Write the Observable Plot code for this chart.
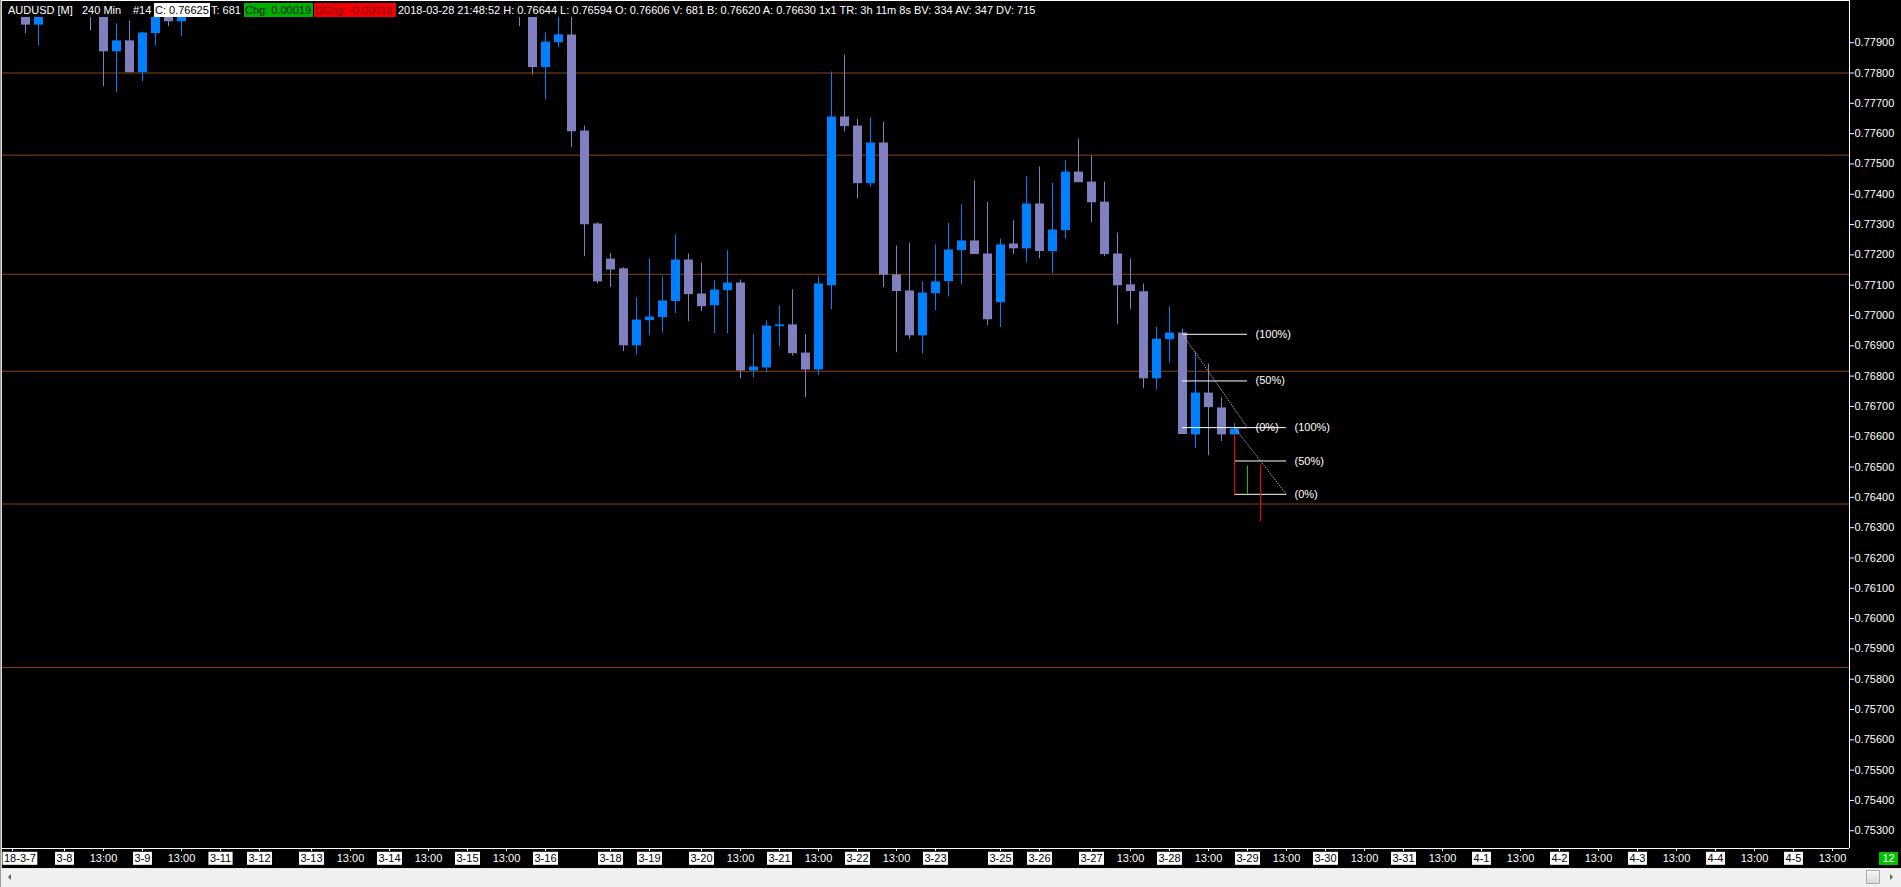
<!DOCTYPE html>
<html>
<head>
<meta charset="utf-8">
<script src="https://cdn.jsdelivr.net/npm/d3@7"></script>
<script src="https://cdn.jsdelivr.net/npm/@observablehq/plot@0.6"></script>
<style>
html, body { margin: 0; padding: 0; background: #000; overflow: hidden; }
#wrap { position: relative; width: 1901px; height: 887px; background: #000; font-family: "Liberation Sans", Arial, sans-serif; font-size: 11px; }
#chart svg { display: block; }
#hdr { position: absolute; left: 0; top: 0; width: 1901px; height: 17px; pointer-events: none; }
#hdr span { position: absolute; top: 3px; height: 14px; line-height: 14px; color: #fff; white-space: nowrap; font-size: 11px; }
#hdr span.box { box-sizing: border-box; padding-left: 1px; }
#topline { position: absolute; left: 0; top: 0; width: 1850px; height: 1px; background: #fff; }
#rightline { position: absolute; left: 1849px; top: 0; width: 1px; height: 17px; background: #fff; }
#lb1 { position: absolute; left: 0; top: 0; width: 1px; height: 887px; background: #9a9a9a; }
#lb2 { position: absolute; left: 1px; top: 0; width: 1px; height: 868px; background: #d8d8d8; }
#sb { position: absolute; left: 0; top: 868px; width: 1901px; height: 19px; background: #f0f0f0; border-top: 1px solid #e4e4e4; box-sizing: border-box; }
#sb .la { position: absolute; left: 8px; top: 5px; width: 0; height: 0; border-top: 3px solid transparent; border-bottom: 3px solid transparent; border-right: 3px solid #606060; }
#sb .thumb { position: absolute; left: 1866px; top: 1px; width: 14px; height: 14px; box-sizing: border-box; border: 1px solid #acacac; background: linear-gradient(#f6f6f6, #dadada); }
#sb .ra { position: absolute; left: 1890px; top: 5px; width: 0; height: 0; border-top: 3px solid transparent; border-bottom: 3px solid transparent; border-left: 3px solid #606060; }
#barsleft { position: absolute; left: 1879px; top: 852px; width: 19px; height: 13px; line-height: 13px; background: #00c000; color: #fff; text-align: center; font-size: 11px; }
</style>
</head>
<body>
<div id="wrap">
  <div id="chart"></div>
  <div id="hdr">
    <div id="topline"></div><div id="rightline"></div>
    <span style="left:8px">AUDUSD [M]</span>
    <span style="left:82px">240 Min</span>
    <span style="left:133px">#14</span>
    <span class="box" style="left:154px;width:56px;background:#fff;color:#000">C: 0.76625</span>
    <span style="left:211px">T: 681</span>
    <span class="box" style="left:244px;width:69px;background:#00b000;color:#002200">Chg: 0.00019</span>
    <span class="box" style="left:314px;width:82px;background:#f00000;color:#8b0000">DChg: -0.00019</span>
    <span style="left:398px">2018-03-28 21:48:52 H: 0.76644 L: 0.76594 O: 0.76606 V: 681 B: 0.76620 A: 0.76630 1x1 TR: 3h 11m 8s BV: 334 AV: 347 DV: 715</span>
  </div>
  <div id="barsleft">12</div>
  <div id="sb"><div class="la"></div><div class="thumb"></div><div class="ra"></div></div>
  <div id="lb1"></div><div id="lb2"></div>
</div>
<script>
// ---------- DATA ----------
// bar index (4-hour bars counted from the first bar on screen)
const barIndex = [0, 1, 5, 6, 7, 8, 9, 10, 11, 12,
  38, 39, 40, 41, 42, 43, 44, 45, 46, 47, 48, 49, 50, 51, 52, 53, 54, 55, 56, 57, 58, 59,
  60, 61, 62, 63, 64, 65, 66, 67, 68, 69, 70, 71, 72, 73, 74, 75, 76, 77, 78, 79,
  80, 81, 82, 83, 84, 85, 86, 87, 88, 89, 90, 91, 92, 93];
const openP = [0.78010, 0.77958, 0.78050, 0.78030, 0.77870, 0.77906, 0.77801, 0.77930, 0.78010, 0.77969,
  0.78030, 0.78030, 0.77818, 0.77900, 0.77925, 0.77609, 0.77302, 0.77186, 0.77154, 0.76900, 0.76983, 0.76993, 0.77046, 0.77183, 0.77071, 0.77032, 0.77082, 0.77107, 0.76817, 0.76827, 0.76963, 0.76969,
  0.76876, 0.76820, 0.77098, 0.77655, 0.77625, 0.77435, 0.77569, 0.77134, 0.77081, 0.76933, 0.77072, 0.77112, 0.77214, 0.77246, 0.77203, 0.77042, 0.77236, 0.77220, 0.77368, 0.77211,
  0.77280, 0.77473, 0.77440, 0.77374, 0.77203, 0.77101, 0.77078, 0.76791, 0.76920, 0.76942, 0.76606, 0.76744, 0.76695, 0.76606];
const highP = [0.78020, 0.78020, 0.78080, 0.78060, 0.77962, 0.77972, 0.77935, 0.78030, 0.78030, 0.78030,
  0.78060, 0.78060, 0.77932, 0.78000, 0.78000, 0.77625, 0.77306, 0.77205, 0.77158, 0.77059, 0.77186, 0.77127, 0.77266, 0.77203, 0.77173, 0.77114, 0.77214, 0.77117, 0.76937, 0.76982, 0.77032, 0.77085,
  0.76937, 0.77127, 0.77803, 0.77859, 0.77648, 0.77652, 0.77638, 0.77229, 0.77239, 0.77111, 0.77233, 0.77305, 0.77365, 0.77444, 0.77374, 0.77252, 0.77312, 0.77457, 0.77490, 0.77437,
  0.77510, 0.77582, 0.77526, 0.77440, 0.77272, 0.77186, 0.77104, 0.76962, 0.77028, 0.76955, 0.76879, 0.76840, 0.76728, 0.76644];
const lowP = [0.77929, 0.77890, 0.77939, 0.77755, 0.77735, 0.77801, 0.77771, 0.77890, 0.77953, 0.77920,
  0.77953, 0.77793, 0.77711, 0.77884, 0.77554, 0.77194, 0.77104, 0.77092, 0.76881, 0.76871, 0.76933, 0.76943, 0.77006, 0.76980, 0.77013, 0.76940, 0.76940, 0.76791, 0.76795, 0.76811, 0.76897, 0.76867,
  0.76729, 0.76801, 0.77019, 0.77606, 0.77385, 0.77422, 0.77092, 0.76877, 0.76921, 0.76874, 0.77016, 0.77061, 0.77101, 0.77201, 0.76966, 0.76960, 0.77201, 0.77174, 0.77187, 0.77138,
  0.77253, 0.77438, 0.77306, 0.77194, 0.76970, 0.77019, 0.76759, 0.76755, 0.76841, 0.76607, 0.76561, 0.76537, 0.76584, 0.76594];
const closeP = [0.77958, 0.78010, 0.78000, 0.77870, 0.77906, 0.77801, 0.77932, 0.78010, 0.77969, 0.78010,
  0.78000, 0.77818, 0.77902, 0.77926, 0.77606, 0.77299, 0.77111, 0.77150, 0.76900, 0.76985, 0.76995, 0.77048, 0.77183, 0.77069, 0.77029, 0.77084, 0.77107, 0.76817, 0.76830, 0.76965, 0.76969, 0.76874,
  0.76820, 0.77104, 0.77655, 0.77623, 0.77435, 0.77569, 0.77133, 0.77079, 0.76933, 0.77074, 0.77111, 0.77216, 0.77246, 0.77201, 0.76986, 0.77233, 0.77220, 0.77368, 0.77211, 0.77282,
  0.77473, 0.77438, 0.77372, 0.77201, 0.77098, 0.77079, 0.76791, 0.76922, 0.76942, 0.76607, 0.76744, 0.76696, 0.76606, 0.76625];

// horizontal support / resistance levels
const levels = [0.77800, 0.77529, 0.77136, 0.76816, 0.76378, 0.75839];

// retracement drawings
const fibStart = [89, 89, 89, 93, 93, 93];
const fibEnd   = [94, 94, 94, 97, 97, 97];
const fibLevel = [0.76938, 0.76784, 0.76630, 0.76630, 0.76520, 0.76410];
const fibLabel = ["(100%)", "(50%)", "(0%)", "(100%)", "(50%)", "(0%)"];
const diagX1 = [89, 93], diagY1 = [0.76938, 0.76630], diagX2 = [94, 97], diagY2 = [0.76630, 0.76410];
const vX = [93, 94, 95], vTop = [0.76606, 0.76503, 0.76507], vBottom = [0.76404, 0.76411, 0.76320];
const vColor = ["#ff0000", "#00cc00", "#ff0000"];
const markX = [93, 95], markY = [0.76404, 0.76320];

// axis ticks
const priceTicks = [0.753, 0.754, 0.755, 0.756, 0.757, 0.758, 0.759, 0.760, 0.761, 0.762, 0.763, 0.764, 0.765,
  0.766, 0.767, 0.768, 0.769, 0.770, 0.771, 0.772, 0.773, 0.774, 0.775, 0.776, 0.777, 0.778, 0.779];
const tickIndex = [-1, 3, 6, 9, 12, 15, 18, 22, 25, 28, 31, 34, 37, 40, 45, 48, 52, 55, 58, 61, 64, 67, 70,
  75, 78, 82, 85, 88, 91, 94, 97, 100, 103, 106, 109, 112, 115, 118, 121, 124, 127, 130, 133, 136, 139];
const tickLabel = ["18-3-7", "3-8", "13:00", "3-9", "13:00", "3-11", "3-12", "3-13", "13:00", "3-14", "13:00", "3-15", "13:00", "3-16",
  "3-18", "3-19", "3-20", "13:00", "3-21", "13:00", "3-22", "13:00", "3-23",
  "3-25", "3-26", "3-27", "13:00", "3-28", "13:00", "3-29", "13:00", "3-30", "13:00", "3-31", "13:00", "4-1", "13:00",
  "4-2", "13:00", "4-3", "13:00", "4-4", "13:00", "4-5", "13:00"];
const lastPrice = 0.76625;

// ---------- LAYOUT ----------
const W = 1901, H = 868;
const mL = 2, mR = 52, mT = 17, mB = 20;
const BAR_PX = 13, FIRST_PX = 25;            // pixel spacing of bars and first bar centre
const PX_PER_UNIT = 30310, REF_PRICE = 0.779, REF_PX = 42.2;
const xDomain = [(mL - FIRST_PX) / BAR_PX, (W - mR - FIRST_PX) / BAR_PX];
const yDomain = [REF_PRICE - (H - mB - REF_PX) / PX_PER_UNIT, REF_PRICE + (REF_PX - mT) / PX_PER_UNIT];

const UP = "#0080ff", DOWN = "#8080c0";
const candles = barIndex.map((k, i) => ({k, open: openP[i], high: highP[i], low: lowP[i], close: closeP[i],
  col: closeP[i] >= openP[i] ? UP : DOWN}));
const fibs = fibStart.map((s, i) => ({start: s, end: fibEnd[i], level: fibLevel[i], label: fibLabel[i]}));
const diags = diagX1.map((x, i) => ({x1: x, y1: diagY1[i], x2: diagX2[i], y2: diagY2[i]}));
const vlines = vX.map((x, i) => ({x, top: vTop[i], bottom: vBottom[i], color: vColor[i]}));
const markers = markX.map((x, i) => ({x, y: markY[i]}));
const labelOf = new Map(tickIndex.map((k, i) => [k, tickLabel[i]]));

const chart = Plot.plot({
  width: W, height: H,
  marginLeft: mL, marginRight: mR, marginTop: mT, marginBottom: mB,
  x: {type: "linear", domain: xDomain, label: null},
  y: {type: "linear", domain: yDomain, label: null},
  style: {background: "#000", color: "#fff", fontFamily: "'Liberation Sans', Arial, sans-serif", fontSize: "11px"},
  marks: [
    Plot.ruleY(levels, {stroke: "#8b4513", strokeWidth: 1}),
    Plot.ruleX(candles, {x: "k", y1: "low", y2: "high", stroke: "col", strokeWidth: 1, clip: true}),
    Plot.ruleX(candles, {x: "k", y1: "open", y2: "close", stroke: "col", strokeWidth: 9, clip: true}),
    Plot.text(fibs, {x: "end", y: "level", text: "label", textAnchor: "start", dx: 8, fill: "#fff", fontSize: 11}),
    Plot.ruleY(fibs, {y: "level", x1: "start", x2: "end", stroke: "#fff", strokeWidth: 1}),
    Plot.link(diags, {x1: "x1", y1: "y1", x2: "x2", y2: "y2", stroke: "#a8a8a8", strokeWidth: 1, strokeDasharray: "1.5,1"}),
    Plot.ruleX(vlines, {x: "x", y1: "top", y2: "bottom", stroke: "color", strokeWidth: 1}),
    Plot.dot(markers, {x: "x", y: "y", symbol: "plus", r: 2, fill: "#ff0000", stroke: null}),
    Plot.ruleX([xDomain[1]], {stroke: "#fff", strokeWidth: 1}),
    Plot.ruleY([yDomain[0]], {stroke: "#fff", strokeWidth: 1}),
    Plot.axisY({anchor: "right", ticks: priceTicks, tickFormat: d3.format(".5f"), tickSize: 4, tickPadding: 1, fontSize: 11}),
    Plot.axisX({anchor: "bottom", ticks: tickIndex, tickFormat: d => labelOf.get(d), tickSize: 3, tickPadding: 3, fontSize: 11}),
    Plot.text([lastPrice], {y: d => d, frameAnchor: "right", text: d => d3.format(".5f")(d), textAnchor: "start", dx: 4, dy: -2, fill: "#000", fontSize: 11, ariaLabel: "price-box"})
  ]
});
document.getElementById("chart").appendChild(chart);

// ---------- label backgrounds ----------
function addBg(sel, fill, px, py, textFill) {
  chart.querySelectorAll(sel).forEach(t => {
    const b = t.getBBox();
    const r = document.createElementNS("http://www.w3.org/2000/svg", "rect");
    r.setAttribute("x", b.x - px); r.setAttribute("y", b.y - py);
    r.setAttribute("width", b.width + 2 * px); r.setAttribute("height", b.height + 2 * py);
    r.setAttribute("fill", fill);
    const tr = t.getAttribute("transform");
    if (tr) r.setAttribute("transform", tr);
    t.parentNode.insertBefore(r, t);
    if (textFill) t.setAttribute("fill", textFill);
  });
}
const xTexts = [...chart.querySelectorAll('g[aria-label="x-axis tick label"] text')];
// the first date label sits against the left edge of the chart, so it is pushed inside
const firstLab = xTexts.find(t => t.textContent === tickLabel[0]);
if (firstLab) {
  const b = firstLab.getBBox();
  const tr = firstLab.getAttribute("transform") || "";
  const m = /translate\(\s*([-\d.]+)/.exec(tr);
  const gx = m ? +m[1] : 0;
  const shift = Math.max(0, 3.5 - (gx + b.x));
  firstLab.setAttribute("x", shift);
}
xTexts.filter(t => t.textContent.includes("-")).forEach(t => t.classList.add("datelab"));
addBg("text.datelab", "#fff", 1.5, 0.5, "#000");
addBg('g[aria-label="price-box"] text', "#fff", 1, 0, null);
</script>
</body>
</html>
